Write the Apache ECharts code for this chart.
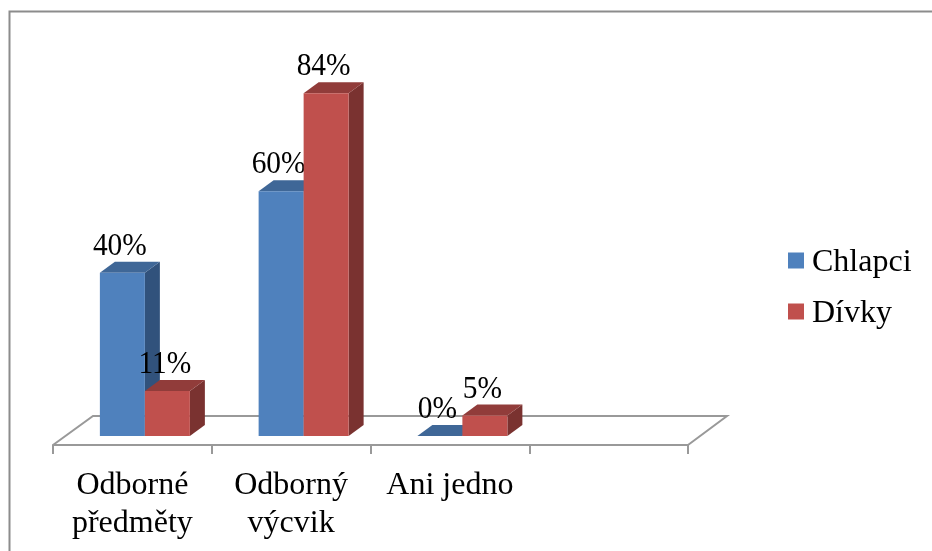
<!DOCTYPE html>
<html>
<head>
<meta charset="utf-8">
<script src="https://cdn.jsdelivr.net/npm/echarts@6/dist/echarts.min.js"></script>
<style>
html, body { margin: 0; padding: 0; background: #fff; }
#chart { width: 932px; height: 551px; filter: blur(0.4px); }
</style>
</head>
<body>
<div id="chart"></div>
<script>
const categories = ['Odborné\npředměty', 'Odborný\nvýcvik', 'Ani jedno', '']
const chlapci = [40, 60, 0]
const divky = [11, 84, 5]

const FONT = '"Liberation Serif", "Times New Roman", serif'
const BAR_W = 45
const DEPTH_X = 15
const DEPTH_Y = 11
const AXIS_OFFSET = 9

// one box per value: front, top and side faces, label on top of everything
function boxRenderer(colors, shift) {
  return (params, api) => {
    const i = api.value(0)
    const v = api.value(1)
    const top = api.coord([i, v])
    const base = api.coord([i, 0])
    const l = top[0] + shift
    const r = l + BAR_W
    const y0 = top[1]
    const y1 = base[1]
    const poly = (points, fill) => ({ type: 'polygon', shape: { points }, style: { fill } })
    const children = [
      poly([[r, y1], [r + DEPTH_X, y1 - DEPTH_Y], [r + DEPTH_X, y0 - DEPTH_Y], [r, y0]], colors.side),
      poly([[l, y0], [l + DEPTH_X, y0 - DEPTH_Y], [r + DEPTH_X, y0 - DEPTH_Y], [r, y0]], colors.top),
    ]
    if (v > 0) children.push({ type: 'rect', shape: { x: l, y: y0, width: BAR_W, height: y1 - y0 }, style: { fill: colors.front } })
    children.push({
      type: 'text',
      z2: 100,
      x: l + 20,
      y: y0 - 26.5,
      scaleX: 0.92,
      style: {
        x: 0,
        y: 0,
        text: v + '%',
        fill: '#000',
        font: '32px ' + FONT,
        align: 'center',
        verticalAlign: 'middle',
      },
    })
    return { type: 'group', children }
  }
}

function floorRenderer(params) {
  const c = params.coordSys
  const front = c.y + c.height + AXIS_OFFSET
  const back = front - 29
  const x1 = c.x + c.width
  return {
    type: 'polyline',
    shape: { points: [[c.x, front], [c.x + 40, back], [x1 + 39, back], [x1, front]] },
    style: { fill: null, stroke: '#999', lineWidth: 2 },
  }
}

const chart = echarts.init(document.getElementById('chart'), null, { renderer: 'canvas' })
chart.setOption({
  animation: false,
  backgroundColor: '#fff',
  graphic: [{
    type: 'polyline',
    silent: true,
    shape: { points: [[9.5, 551], [9.5, 11.5], [932, 11.5]] },
    style: { fill: null, stroke: '#8c8c8c', lineWidth: 2 },
  }],
  legend: {
    data: ['Chlapci', 'Dívky'],
    orient: 'vertical',
    left: 788,
    top: 242,
    padding: 0,
    icon: 'rect',
    itemWidth: 16,
    itemHeight: 16,
    itemGap: 14,
    selectedMode: false,
    formatter: '{t|{name}}',
    textStyle: {
      rich: { t: { fontFamily: FONT, fontSize: 32, color: '#000', lineHeight: 32, padding: [5, 0, 0, 3] } },
    },
  },
  grid: { left: 53, top: 28, width: 635, height: 408 },
  xAxis: {
    type: 'category',
    data: categories,
    offset: AXIS_OFFSET,
    axisLine: { onZero: false, lineStyle: { color: '#999', width: 2 } },
    axisTick: { show: true, length: 9, alignWithLabel: false, lineStyle: { color: '#999', width: 2 } },
    axisLabel: { interval: 0, margin: 22, color: '#000', fontFamily: FONT, fontSize: 32, lineHeight: 38 },
  },
  yAxis: { type: 'value', min: 0, max: 100, show: false },
  series: [
    { name: 'floor', type: 'custom', data: [[0, 0]], renderItem: floorRenderer, silent: true, z: 1 },
    {
      name: 'Chlapci',
      type: 'custom',
      data: chlapci.map((v, i) => [i, v]),
      itemStyle: { color: '#4F81BD' },
      renderItem: boxRenderer({ front: '#4F81BD', top: '#3F6797', side: '#31527C' }, -32.5),
      z: 2,
    },
    {
      name: 'Dívky',
      type: 'custom',
      data: divky.map((v, i) => [i, v]),
      itemStyle: { color: '#C0504D' },
      renderItem: boxRenderer({ front: '#C0504D', top: '#913C3A', side: '#7A3230' }, 12.5),
      z: 3,
    },
  ],
})
</script>
</body>
</html>
